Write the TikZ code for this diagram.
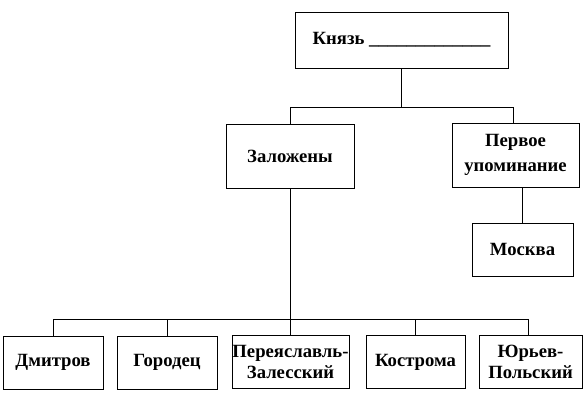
\documentclass[tikz,border=0pt]{standalone}
\usepackage{fontspec}
\setmainfont{Liberation Serif}
\begin{document}
\begin{tikzpicture}[x=0.75pt,y=-0.75pt,
  box/.style={draw=black,line width=0.75pt,rectangle,inner sep=0pt,align=center,
    font=\fontsize{14}{16}\selectfont\bfseries},
  conn/.style={draw=black,line width=0.75pt}]
\useasboundingbox (0,0) rectangle (586,407);
\node[box,minimum width=159.75pt,minimum height=42pt] (knyaz) at (401.5,40) {Князь \_\_\_\_\_\_\_\_\_\_\_\_\_};
\node[box,minimum width=96pt,minimum height=48pt] (zal) at (290,156) {Заложены};
\node[box,minimum width=95.25pt,minimum height=48pt] (perv) at (515.5,155) {Первое\\[2.5pt]упоминание};
\node[box,minimum width=75.75pt,minimum height=39.75pt] (mosk) at (522.5,249.5) {Москва};
\node[box,minimum width=75pt,minimum height=39.75pt] (dmit) at (53,362.5) {Дмитров};
\node[box,minimum width=75pt,minimum height=39.75pt] (gor) at (167,362.5) {Городец};
\node[box,minimum width=87.75pt,minimum height=39.75pt] (per) at (290.5,362) {Переяславль-\\Залесский};
\node[box,minimum width=74.25pt,minimum height=39.75pt] (kost) at (415.5,362) {Кострома};
\node[box,minimum width=77.25pt,minimum height=39.75pt] (yur) at (530.5,362) {Юрьев-\\Польский};
\coordinate (b1) at (0,107);
\coordinate (b2) at (0,319);
\coordinate (pt) at (513,0);
\coordinate (yt) at (528,0);
\draw[conn] (knyaz.south) -- (knyaz.south |- b1);
\draw[conn] (zal.north) -- (zal.north |- b1) -- (pt |- b1) -- (pt |- perv.north);
\draw[conn] (mosk.north) -- (mosk.north |- perv.south);
\draw[conn] (zal.south) -- (zal.south |- b2);
\draw[conn] (dmit.north) -- (dmit.north |- b2) -- (yt |- b2) -- (yt |- yur.north);
\draw[conn] (gor.north) -- (gor.north |- b2);
\draw[conn] (per.north) -- (per.north |- b2);
\draw[conn] (kost.north) -- (kost.north |- b2);
\end{tikzpicture}
\end{document}
